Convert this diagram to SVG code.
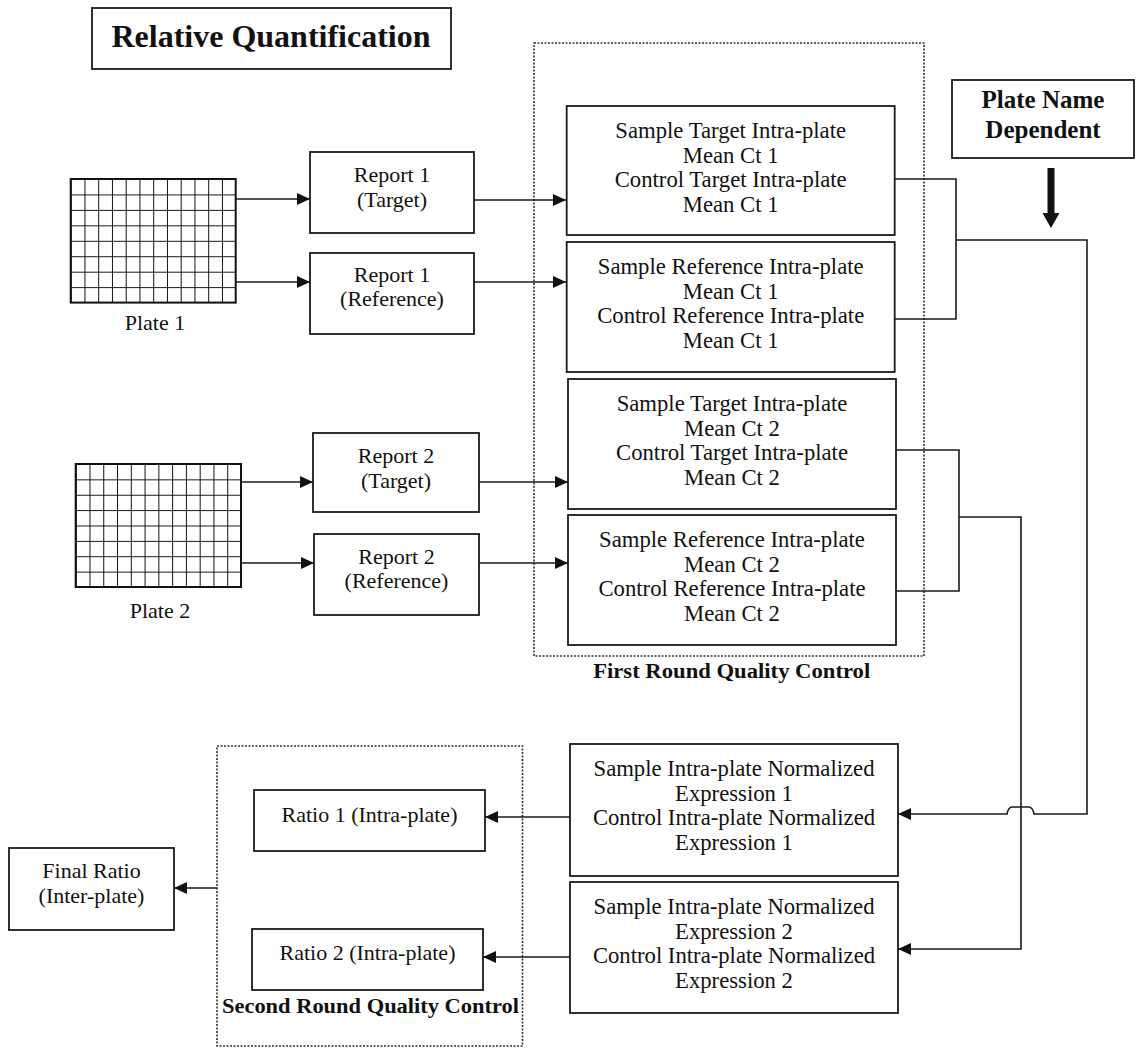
<svg xmlns="http://www.w3.org/2000/svg" width="1139" height="1048" viewBox="0 0 1139 1048">
<style>
  .box{fill:#fff;stroke:#1a1a1a;stroke-width:1.8}
  .dot{fill:none;stroke:#333;stroke-width:1.6;stroke-dasharray:2 1.5}
  .ln{fill:none;stroke:#1a1a1a;stroke-width:1.6}
  .grid{fill:none;stroke:#111;stroke-width:2}
  .t{font-family:"Liberation Serif","Times New Roman",serif;font-size:22px;fill:#111;text-anchor:middle}
  .m{font-size:22.7px}
  .b{font-family:"Liberation Serif","Times New Roman",serif;font-weight:bold;fill:#111;text-anchor:middle}
</style>
<defs>
  <marker id="ah" markerUnits="userSpaceOnUse" markerWidth="14" markerHeight="13" refX="13" refY="6" orient="auto">
    <path d="M0,0 L13,6 L0,12 Z" fill="#111"/>
  </marker>
  <pattern id="g1" x="70.7" y="179" width="13.75" height="15.45" patternUnits="userSpaceOnUse">
    <path d="M0,0 H13.75 M0,0 V15.45" stroke="#111" stroke-width="2" fill="none"/>
  </pattern>
  <pattern id="g2" x="75.7" y="464" width="13.775" height="15.375" patternUnits="userSpaceOnUse">
    <path d="M0,0 H13.775 M0,0 V15.375" stroke="#111" stroke-width="2" fill="none"/>
  </pattern>
</defs>
<rect width="1139" height="1048" fill="#fff"/>

<g id="title">
  <rect class="box" x="92" y="8" width="359" height="61"/>
  <text class="b" x="271" y="47" font-size="32">Relative Quantification</text>
</g>

<g id="plate1">
  <rect x="70.7" y="179" width="165" height="123.6" fill="url(#g1)"/>
  <rect class="grid" x="70.7" y="179" width="165" height="123.6"/>
  <text class="t" x="155" y="330" font-size="26.5">Plate 1</text>
</g>
<g id="plate2">
  <rect x="75.7" y="464" width="165.3" height="123" fill="url(#g2)"/>
  <rect class="grid" x="75.7" y="464" width="165.3" height="123"/>
  <text class="t" x="160" y="618" font-size="26.5">Plate 2</text>
</g>

<g id="report1t">
  <rect class="box" x="310" y="152" width="164" height="81"/>
  <text class="t" x="392" y="182">Report 1</text>
  <text class="t" x="392" y="207">(Target)</text>
</g>
<g id="report1r">
  <rect class="box" x="310" y="253" width="164" height="81"/>
  <text class="t" x="392" y="282">Report 1</text>
  <text class="t" x="392" y="306">(Reference)</text>
</g>
<g id="report2t">
  <rect class="box" x="313" y="433" width="166" height="79"/>
  <text class="t" x="396" y="463">Report 2</text>
  <text class="t" x="396" y="488">(Target)</text>
</g>
<g id="report2r">
  <rect class="box" x="314" y="534" width="165" height="81"/>
  <text class="t" x="396.5" y="564">Report 2</text>
  <text class="t" x="396.5" y="588">(Reference)</text>
</g>

<g id="firstRoundQC">
  <rect class="dot" x="534" y="43" width="390" height="613"/>
  <text class="b" x="731.7" y="678" font-size="20" textLength="277" lengthAdjust="spacingAndGlyphs">First Round Quality Control</text>
</g>

<g id="meanCt1t">
  <rect class="box" x="566.7" y="106" width="328" height="129"/>
  <text class="t m" x="730.7" y="138">Sample Target Intra-plate</text>
  <text class="t m" x="730.7" y="162.5">Mean Ct 1</text>
  <text class="t m" x="730.7" y="187">Control Target Intra-plate</text>
  <text class="t m" x="730.7" y="211.5">Mean Ct 1</text>
</g>
<g id="meanCt1r">
  <rect class="box" x="566.7" y="242" width="328" height="130"/>
  <text class="t m" x="730.7" y="274">Sample Reference Intra-plate</text>
  <text class="t m" x="730.7" y="298.5">Mean Ct 1</text>
  <text class="t m" x="730.7" y="323">Control Reference Intra-plate</text>
  <text class="t m" x="730.7" y="347.5">Mean Ct 1</text>
</g>
<g id="meanCt2t">
  <rect class="box" x="568" y="379" width="328" height="130"/>
  <text class="t m" x="732" y="411">Sample Target Intra-plate</text>
  <text class="t m" x="732" y="435.5">Mean Ct 2</text>
  <text class="t m" x="732" y="460">Control Target Intra-plate</text>
  <text class="t m" x="732" y="484.5">Mean Ct 2</text>
</g>
<g id="meanCt2r">
  <rect class="box" x="568" y="515" width="328" height="130"/>
  <text class="t m" x="732" y="547">Sample Reference Intra-plate</text>
  <text class="t m" x="732" y="571.5">Mean Ct 2</text>
  <text class="t m" x="732" y="596">Control Reference Intra-plate</text>
  <text class="t m" x="732" y="620.5">Mean Ct 2</text>
</g>

<g id="plateNameDependent">
  <rect class="box" x="952" y="80" width="182" height="78"/>
  <text class="b" x="1043" y="108" font-size="25">Plate Name</text>
  <text class="b" x="1043" y="138" font-size="25">Dependent</text>
  <path d="M1047.5,168 H1054.5 V213 H1059.5 L1051,228 L1042.5,213 H1047.5 Z" fill="#111"/>
</g>

<g id="norm1">
  <rect class="box" x="570" y="744" width="328" height="132"/>
  <text class="t m" x="734" y="776">Sample Intra-plate Normalized</text>
  <text class="t m" x="734" y="800.5">Expression 1</text>
  <text class="t m" x="734" y="825">Control Intra-plate Normalized</text>
  <text class="t m" x="734" y="849.5">Expression 1</text>
</g>
<g id="norm2">
  <rect class="box" x="570" y="882" width="328" height="131"/>
  <text class="t m" x="734" y="914">Sample Intra-plate Normalized</text>
  <text class="t m" x="734" y="938.5">Expression 2</text>
  <text class="t m" x="734" y="963">Control Intra-plate Normalized</text>
  <text class="t m" x="734" y="987.5">Expression 2</text>
</g>

<g id="secondRoundQC">
  <rect class="dot" x="217" y="746" width="305.5" height="300"/>
  <text class="b" x="370.5" y="1013" font-size="20" textLength="297" lengthAdjust="spacingAndGlyphs">Second Round Quality Control</text>
</g>
<g id="ratio1">
  <rect class="box" x="254" y="790" width="231" height="61"/>
  <text class="t" x="369.5" y="822">Ratio 1 (Intra-plate)</text>
</g>
<g id="ratio2">
  <rect class="box" x="252" y="929" width="231" height="61"/>
  <text class="t" x="367.5" y="960">Ratio 2 (Intra-plate)</text>
</g>
<g id="finalRatio">
  <rect class="box" x="9" y="848" width="165" height="82"/>
  <text class="t" x="91.5" y="878">Final Ratio</text>
  <text class="t" x="91.5" y="903">(Inter-plate)</text>
</g>

<g id="connectors">
  <path class="ln" d="M235.7,199 H310" marker-end="url(#ah)"/>
  <path class="ln" d="M235.7,282 H310" marker-end="url(#ah)"/>
  <path class="ln" d="M241,482 H313" marker-end="url(#ah)"/>
  <path class="ln" d="M241,563 H314" marker-end="url(#ah)"/>
  <path class="ln" d="M474,200 H566" marker-end="url(#ah)"/>
  <path class="ln" d="M474,282 H566" marker-end="url(#ah)"/>
  <path class="ln" d="M479,482 H568" marker-end="url(#ah)"/>
  <path class="ln" d="M479,563 H568" marker-end="url(#ah)"/>
  <path class="ln" d="M894.7,179 H956 V319 H894.7"/>
  <path class="ln" d="M896,450 H959 V591 H896"/>
  <path class="ln" d="M956,240 H1087 V814 H1034 Q1032.5,807 1029,807 H1012 Q1008.5,807 1007,814 H898" marker-end="url(#ah)"/>
  <path class="ln" d="M959,517 H1021 V949 H898" marker-end="url(#ah)"/>
  <path class="ln" d="M570,817 H485" marker-end="url(#ah)"/>
  <path class="ln" d="M570,957 H483" marker-end="url(#ah)"/>
  <path class="ln" d="M217,888 H174" marker-end="url(#ah)"/>
</g>
</svg>
